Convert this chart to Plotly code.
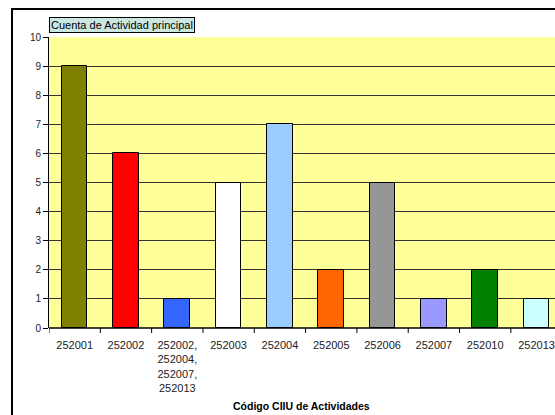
import plotly.graph_objects as go

# Activity counts by CIIU code
categories = ["252001", "252002", "252002,<br>252004,<br>252007,<br>252013",
              "252003", "252004", "252005", "252006", "252007", "252010", "252013"]
counts = [9, 6, 1, 5, 7, 2, 5, 1, 2, 1]
bar_colors = ["#808000", "#FF0000", "#3366FF", "#FFFFFF", "#99CCFF",
              "#FF6600", "#969696", "#9999FF", "#008000", "#CCFFFF"]
y_ticks = list(range(0, 11))

W, H = 555, 415
L, T, B = 49, 37, 87
plot_w = W - L
plot_h = H - T - B

font_family = "Arial, Liberation Sans, sans-serif"

fig = go.Figure(go.Bar(
    x=list(range(len(categories))),
    y=counts,
    width=0.5,
    marker=dict(color=bar_colors, line=dict(color="black", width=1)),
))

fig.update_layout(
    width=W, height=H,
    margin=dict(l=L, r=0, t=T, b=B, pad=0),
    paper_bgcolor="white",
    plot_bgcolor="#FFFF99",
    showlegend=False,
    font=dict(family=font_family, size=10, color="#222222"),
    bargap=0,
)

fig.update_xaxes(
    range=[-0.5, 9.36],
    tickmode="array",
    tickvals=list(range(len(categories))),
    ticktext=categories,
    showgrid=False,
    ticks="",
    showline=False,
    zeroline=False,
    ticklabelstandoff=9,
    tickfont=dict(size=11, color="#222222"),
)

fig.update_yaxes(
    range=[0, 10],
    tickvals=y_ticks,
    showgrid=True,
    gridcolor="#333333",
    gridwidth=1,
    showline=True,
    linecolor="black",
    linewidth=1,
    ticks="outside",
    ticklen=5,
    tickcolor="black",
    zeroline=False,
    tickfont=dict(size=10, color="#222222"),
)

# category boundary ticks below the x axis
n = len(categories)
for k in range(n + 1):
    xb = k - 0.5
    fig.add_shape(type="line", xref="x", yref="paper",
                  x0=xb, x1=xb, y0=0, y1=-5 / plot_h,
                  line=dict(color="black", width=1))
fig.add_shape(type="line", xref="paper", yref="paper",
              x0=0, x1=1.05, y0=0, y1=0,
              line=dict(color="black", width=1.5))

# outer chart frame
fig.add_shape(type="rect", xref="paper", yref="paper",
              x0=(12 - L) / plot_w, x1=1.1,
              y0=-0.5, y1=(H - B - 9) / plot_h,
              line=dict(color="black", width=2), fillcolor="rgba(0,0,0,0)",
              layer="above")

# series caption box
fig.add_annotation(
    text="Cuenta de Actividad principal",
    xref="paper", yref="paper", x=0, y=1,
    xanchor="left", yanchor="bottom", yshift=4,
    showarrow=False,
    font=dict(family=font_family, size=11, color="black"),
    bgcolor="#CCE6E0", bordercolor="black", borderwidth=1, borderpad=1,
)

# x-axis title
fig.add_annotation(
    text="<b>Código CIIU de Actividades</b>",
    xref="paper", yref="paper", x=(301 - L) / plot_w, y=-(406 - (H - B)) / plot_h,
    xanchor="center", yanchor="middle", showarrow=False,
    font=dict(family=font_family, size=10.5, color="black"),
)

fig.write_html("out.html")
